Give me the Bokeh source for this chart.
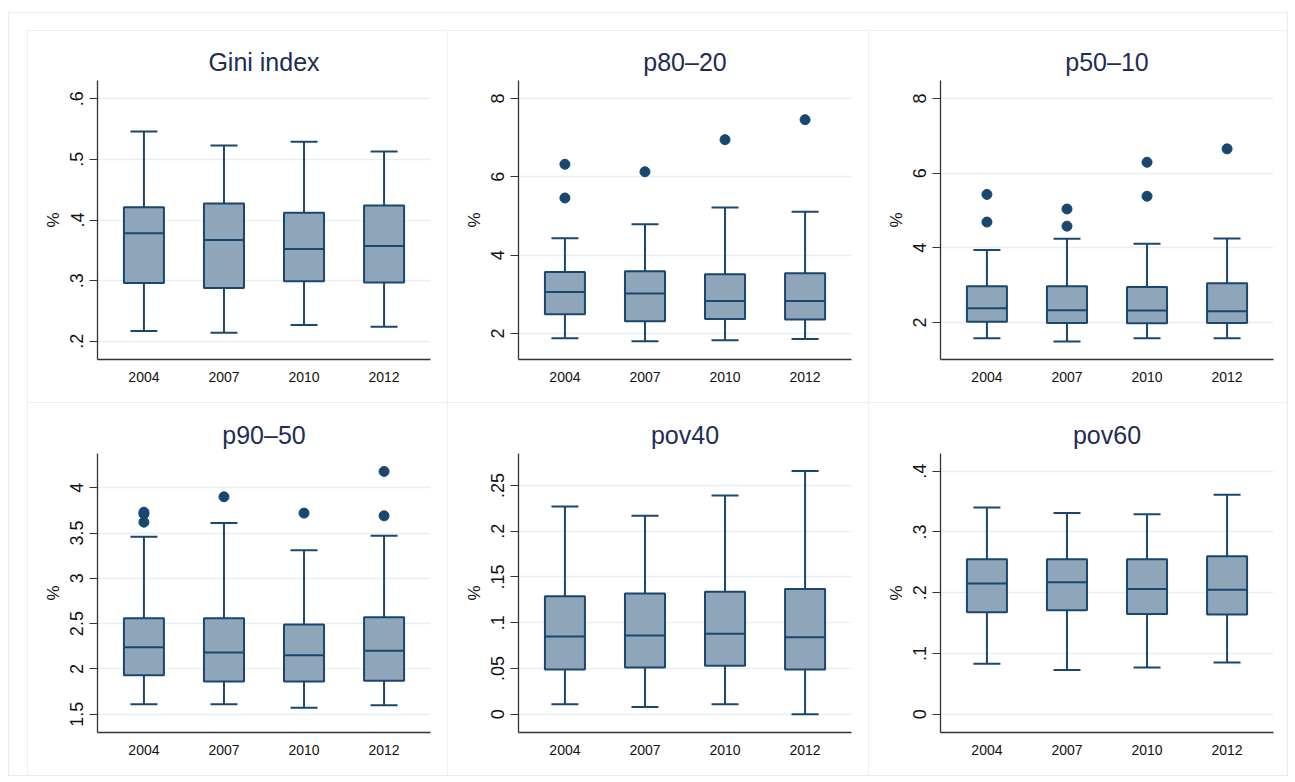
from bokeh.plotting import figure
from bokeh.models import (ColumnDataSource, FactorRange, FixedTicker, Whisker,
                          TeeHead, Spacer)
from bokeh.layouts import row, column
from bokeh.transform import dodge
from bokeh.embed import file_html
from bokeh.resources import INLINE

years = ["2004", "2007", "2010", "2012"]

# Box-plot summaries per indicator: lower adjacent, Q1, median, Q3, upper adjacent
gini_lo = [0.217, 0.214, 0.227, 0.224]
gini_q1 = [0.296, 0.288, 0.299, 0.297]
gini_med = [0.378, 0.367, 0.352, 0.357]
gini_q3 = [0.421, 0.427, 0.412, 0.424]
gini_hi = [0.546, 0.523, 0.529, 0.513]
gini_out_year = []
gini_out_val = []

p8020_lo = [1.88, 1.80, 1.83, 1.86]
p8020_q1 = [2.49, 2.31, 2.37, 2.36]
p8020_med = [3.06, 3.02, 2.83, 2.83]
p8020_q3 = [3.57, 3.59, 3.51, 3.54]
p8020_hi = [4.43, 4.79, 5.22, 5.11]
p8020_out_year = ["2004", "2004", "2007", "2010", "2012"]
p8020_out_val = [6.32, 5.46, 6.13, 6.95, 7.46]

p5010_lo = [1.58, 1.49, 1.58, 1.58]
p5010_q1 = [2.02, 1.99, 1.98, 1.99]
p5010_med = [2.38, 2.33, 2.32, 2.30]
p5010_q3 = [2.97, 2.97, 2.95, 3.05]
p5010_hi = [3.94, 4.24, 4.11, 4.25]
p5010_out_year = ["2004", "2004", "2007", "2007", "2010", "2010", "2012"]
p5010_out_val = [5.43, 4.69, 5.04, 4.58, 6.29, 5.38, 6.65]

p9050_lo = [1.61, 1.61, 1.57, 1.60]
p9050_q1 = [1.93, 1.86, 1.86, 1.87]
p9050_med = [2.24, 2.18, 2.15, 2.20]
p9050_q3 = [2.56, 2.56, 2.49, 2.57]
p9050_hi = [3.46, 3.61, 3.31, 3.47]
p9050_out_year = ["2004", "2004", "2004", "2007", "2010", "2012", "2012"]
p9050_out_val = [3.73, 3.71, 3.62, 3.90, 3.72, 4.18, 3.69]

pov40_lo = [0.011, 0.008, 0.011, 0.000]
pov40_q1 = [0.049, 0.051, 0.053, 0.049]
pov40_med = [0.085, 0.086, 0.088, 0.084]
pov40_q3 = [0.129, 0.132, 0.134, 0.137]
pov40_hi = [0.227, 0.217, 0.239, 0.266]
pov40_out_year = []
pov40_out_val = []

pov60_lo = [0.083, 0.073, 0.077, 0.085]
pov60_q1 = [0.168, 0.171, 0.165, 0.164]
pov60_med = [0.215, 0.217, 0.206, 0.205]
pov60_q3 = [0.255, 0.255, 0.255, 0.260]
pov60_hi = [0.340, 0.331, 0.329, 0.361]
pov60_out_year = []
pov60_out_val = []

# Axis ticks and their labels
gini_ticks = [0.2, 0.3, 0.4, 0.5, 0.6]
gini_tick_labels = [".2", ".3", ".4", ".5", ".6"]
p8020_ticks = [2, 4, 6, 8]
p8020_tick_labels = ["2", "4", "6", "8"]
p5010_ticks = [2, 4, 6, 8]
p5010_tick_labels = ["2", "4", "6", "8"]
p9050_ticks = [1.5, 2, 2.5, 3, 3.5, 4]
p9050_tick_labels = ["1.5", "2", "2.5", "3", "3.5", "4"]
pov40_ticks = [0, 0.05, 0.1, 0.15, 0.2, 0.25]
pov40_tick_labels = ["0", ".05", ".1", ".15", ".2", ".25"]
pov60_ticks = [0, 0.1, 0.2, 0.3, 0.4]
pov60_tick_labels = ["0", ".1", ".2", ".3", ".4"]

NAVY = "#1a476f"
FILL = "#8fa5b9"
GRID = "#e6eef1"
FONT = "Liberation Sans"


def panel(title, lo, q1, med, q3, hi, out_year, out_val, ticks, tick_labels,
          y_range, width, border_left, border_right, height, border_top):
    p = figure(x_range=FactorRange(*years, range_padding=0.04),
               y_range=y_range, width=width, height=height,
               output_backend="svg", toolbar_location=None,
               min_border_left=border_left, min_border_right=border_right,
               min_border_top=border_top, min_border_bottom=43)
    p.styles = {"outline": "1px solid #e4ecef", "outline-offset": "-1px"}
    p.outline_line_color = None
    p.background_fill_color = "white"
    p.border_fill_color = "white"

    p.title.text = title
    p.title.align = "center"
    p.title.text_font = FONT
    p.title.text_font_size = "25px"
    p.title.text_font_style = "normal"
    p.title.text_color = "#1e2d55"
    p.title.standoff = 10

    p.xgrid.grid_line_color = None
    p.ygrid.grid_line_color = GRID
    p.ygrid.grid_line_width = 1.5

    ya = p.yaxis[0]
    ya.ticker = FixedTicker(ticks=ticks)
    ya.major_label_overrides = {t: s for t, s in zip(ticks, tick_labels)}
    ya.minor_tick_line_color = None
    ya.major_tick_out = 8
    ya.major_tick_in = 0
    ya.major_tick_line_color = "#333333"
    ya.major_tick_line_width = 1.2
    ya.axis_line_color = "#333333"
    ya.axis_line_width = 1.3
    ya.major_label_orientation = "vertical"
    ya.major_label_text_font = FONT
    ya.major_label_text_font_size = "18px"
    ya.major_label_text_color = "#111111"
    ya.major_label_standoff = 6
    ya.axis_label = "%"
    ya.axis_label_text_font = FONT
    ya.axis_label_text_font_size = "17px"
    ya.axis_label_text_font_style = "normal"
    ya.axis_label_text_color = "#111111"
    ya.axis_label_standoff = 5

    xa = p.xaxis[0]
    xa.major_tick_line_color = None
    xa.minor_tick_line_color = None
    xa.axis_line_color = "#333333"
    xa.axis_line_width = 1.3
    xa.major_label_text_font = FONT
    xa.major_label_text_font_size = "14px"
    xa.major_label_text_color = "#111111"
    xa.major_label_standoff = 6

    src = ColumnDataSource(dict(year=years, lo=lo, q1=q1, med=med, q3=q3, hi=hi))

    lower = Whisker(source=src, base="year", lower="lo", upper="q1",
                    line_color=NAVY, line_width=2,
                    upper_head=None,
                    lower_head=TeeHead(size=27, line_color=NAVY, line_width=2))
    upper = Whisker(source=src, base="year", lower="q3", upper="hi",
                    line_color=NAVY, line_width=2,
                    lower_head=None,
                    upper_head=TeeHead(size=27, line_color=NAVY, line_width=2))
    p.add_layout(lower)
    p.add_layout(upper)

    p.vbar(x="year", width=0.5, bottom="q1", top="q3", source=src,
           fill_color=FILL, line_color=NAVY, line_width=2)
    p.segment(x0=dodge("year", -0.25, range=p.x_range), y0="med",
              x1=dodge("year", 0.25, range=p.x_range), y1="med",
              source=src, line_color=NAVY, line_width=2)

    if out_val:
        p.scatter(x=out_year, y=out_val, size=10, marker="circle",
                  fill_color=NAVY, line_color=NAVY)
    return p


widths = [420, 421, 419]
lefts = [70, 71, 72]
rights = [17, 17, 14]

p1 = panel("Gini index", gini_lo, gini_q1, gini_med, gini_q3, gini_hi,
           gini_out_year, gini_out_val, gini_ticks, gini_tick_labels,
           (0.170, 0.630), widths[0], lefts[0], rights[0], 372, 50)
p2 = panel("p80\u201320", p8020_lo, p8020_q1, p8020_med, p8020_q3, p8020_hi,
           p8020_out_year, p8020_out_val, p8020_ticks, p8020_tick_labels,
           (1.336, 8.46), widths[1], lefts[1], rights[1], 372, 50)
p3 = panel("p50\u201310", p5010_lo, p5010_q1, p5010_med, p5010_q3, p5010_hi,
           p5010_out_year, p5010_out_val, p5010_ticks, p5010_tick_labels,
           (1.01, 8.48), widths[2], lefts[2], rights[2], 372, 50)
p4 = panel("p90\u201350", p9050_lo, p9050_q1, p9050_med, p9050_q3, p9050_hi,
           p9050_out_year, p9050_out_val, p9050_ticks, p9050_tick_labels,
           (1.298, 4.378), widths[0], lefts[0], rights[0], 373, 51)
p5 = panel("pov40", pov40_lo, pov40_q1, pov40_med, pov40_q3, pov40_hi,
           pov40_out_year, pov40_out_val, pov40_ticks, pov40_tick_labels,
           (-0.020, 0.285), widths[1], lefts[1], rights[1], 373, 51)
p6 = panel("pov60", pov60_lo, pov60_q1, pov60_med, pov60_q3, pov60_hi,
           pov60_out_year, pov60_out_val, pov60_ticks, pov60_tick_labels,
           (-0.030, 0.429), widths[2], lefts[2], rights[2], 373, 51)

panels = column(row(p1, p2, p3), row(p4, p5, p6))
root = column(Spacer(height=17), row(Spacer(width=18), panels),
              styles={"border": "1px solid #e4ecef", "margin-left": "8px",
                      "margin-top": "12px"})

open("out.html", "w").write(file_html(root, INLINE))
